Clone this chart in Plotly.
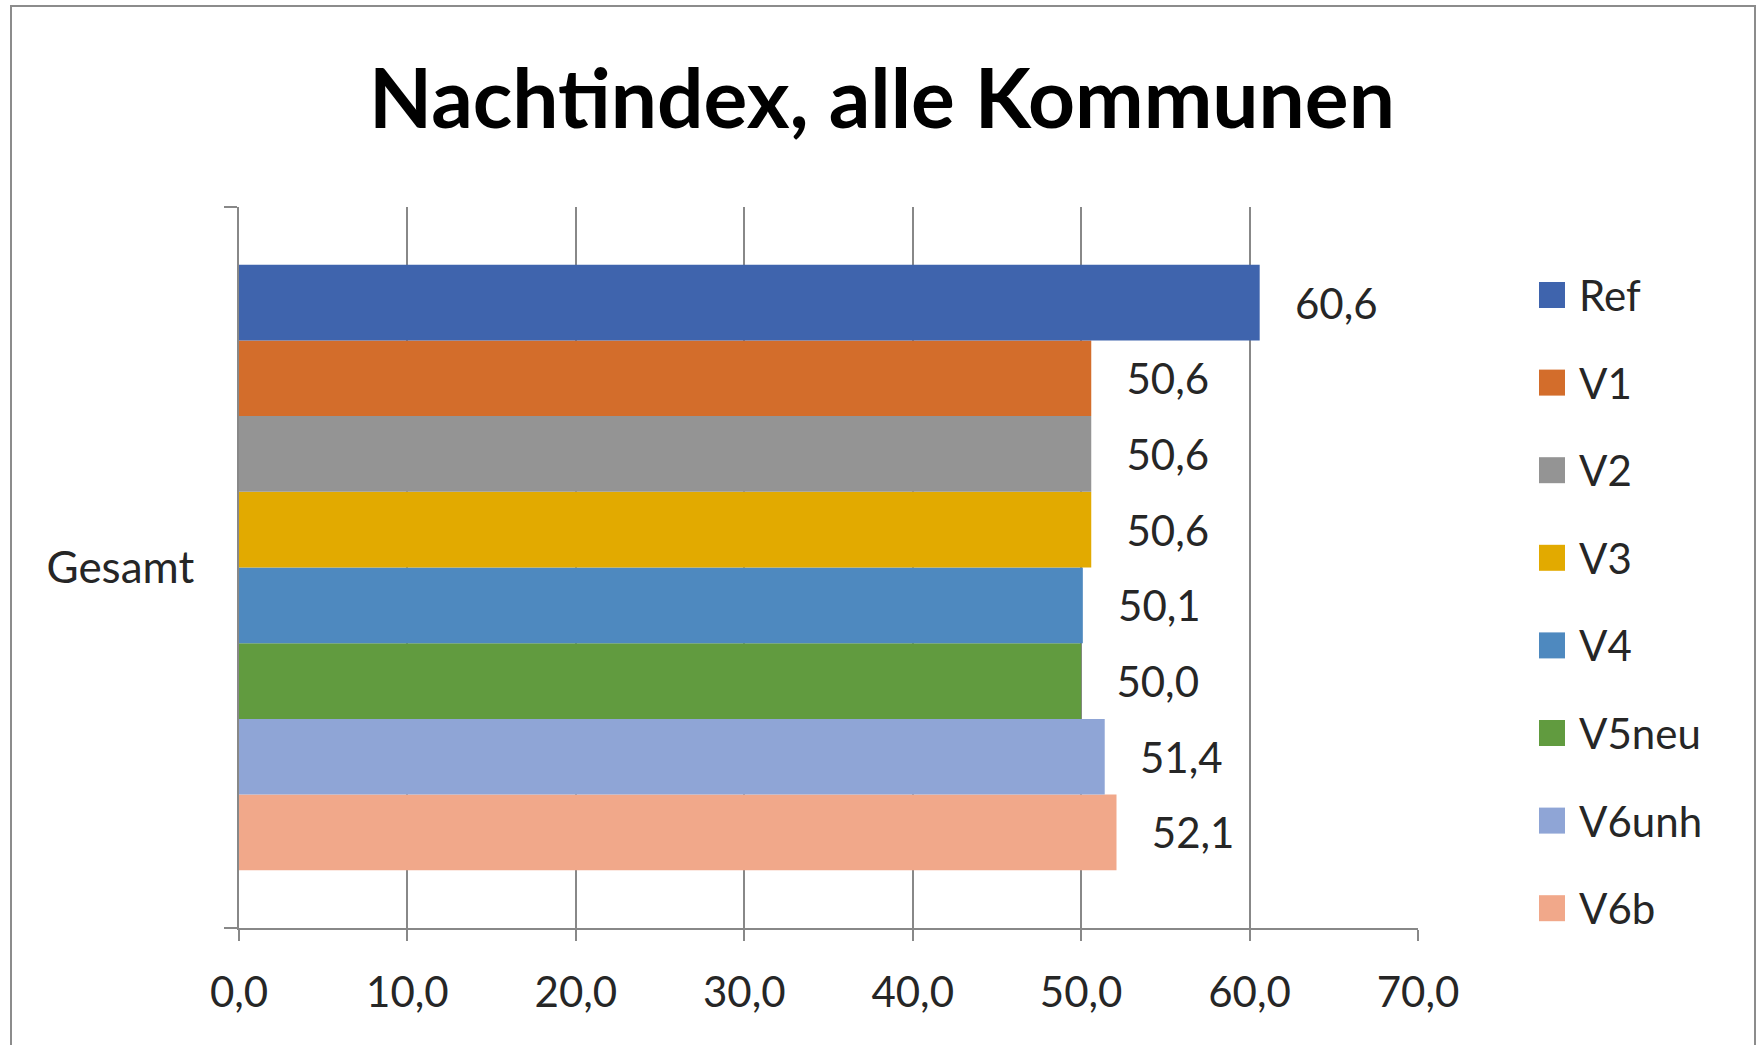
import plotly.graph_objects as go

categories = ["Gesamt"]
series = ["Ref", "V1", "V2", "V3", "V4", "V5neu", "V6unh", "V6b"]
values = [60.6, 50.6, 50.6, 50.6, 50.1, 50.0, 51.4, 52.1]
colors = ["#3F64AD", "#D36D2B", "#949494", "#E2AA00", "#4E89BF", "#619B3F", "#8FA5D6", "#F1A88A"]
x_ticks = [0, 10, 20, 30, 40, 50, 60, 70]

W, H = 1758, 1045
L, R, T, B = 239, 1418, 207, 928  # plot area in pixels
FONT = "Lato"
GRID = "#888888"


def px(x):
    return (x - L) / (R - L)


def py(y):
    return (B - y) / (B - T)


fig = go.Figure()
# horizontal groups are stacked bottom-up, so add in reverse to keep Ref on top
for name, val, col in reversed(list(zip(series, values, colors))):
    fig.add_trace(go.Bar(
        y=categories, x=[val], name=name, orientation="h",
        marker=dict(color=col, line=dict(width=0)),
        texttemplate="\u00a0\u00a0\u00a0%{x:.1f}", textposition="outside",
        constraintext="none", cliponaxis=False,
        textfont=dict(family=FONT, size=42, color="#262626"),
        showlegend=False,
    ))

# legend drawn by hand (Excel style, big swatches, wide spacing)
shapes = []
annotations = []
for i, (name, col) in enumerate(zip(series, colors)):
    yc = 295 + i * 87.6
    shapes.append(dict(type="rect", xref="paper", yref="paper",
                       x0=px(1539), x1=px(1565), y0=py(yc - 13), y1=py(yc + 13),
                       fillcolor=col, line=dict(width=0)))
    annotations.append(dict(text=name, xref="paper", yref="paper",
                            x=px(1577), y=py(yc), xanchor="left", yanchor="middle",
                            showarrow=False, font=dict(family=FONT, size=42, color="#262626")))

# outer chart border
shapes.append(dict(type="rect", xref="paper", yref="paper", layer="below",
                   x0=px(11), x1=px(1755), y0=py(6), y1=py(1060),
                   line=dict(color="#8C8C8C", width=2), fillcolor="rgba(0,0,0,0)"))

fig.update_layout(
    width=W, height=H,
    margin=dict(l=L, r=W - R, t=T, b=H - B, pad=0),
    paper_bgcolor="white", plot_bgcolor="white",
    separators=",.",
    barmode="group", bargap=0.16, bargroupgap=0,
    title=dict(text="<b>Nachtindex, alle Kommunen</b>", x=882 / W, xanchor="center",
               y=1 - 99 / H, yanchor="middle",
               font=dict(family=FONT, size=82, color="black")),
    shapes=shapes, annotations=annotations,
    xaxis=dict(range=[0, 70], tickvals=x_ticks, tickformat=".1f",
               showgrid=True, gridcolor=GRID, gridwidth=1.5,
               showline=True, linecolor=GRID, linewidth=2,
               ticks="outside", ticklen=11, tickcolor=GRID, tickwidth=1.5,
               ticklabelstandoff=16, zeroline=False,
               tickfont=dict(family=FONT, size=42, color="#262626")),
    yaxis=dict(showgrid=False, showline=True, linecolor=GRID, linewidth=2,
               ticks="outside", tickson="boundaries", ticklen=13, tickcolor=GRID, tickwidth=1.5,
               ticklabelstandoff=34,
               tickfont=dict(family=FONT, size=44, color="#262626")),
)

fig.write_html("out.html", config={"displayModeBar": False},
               post_script="document.body.style.margin='0';")
